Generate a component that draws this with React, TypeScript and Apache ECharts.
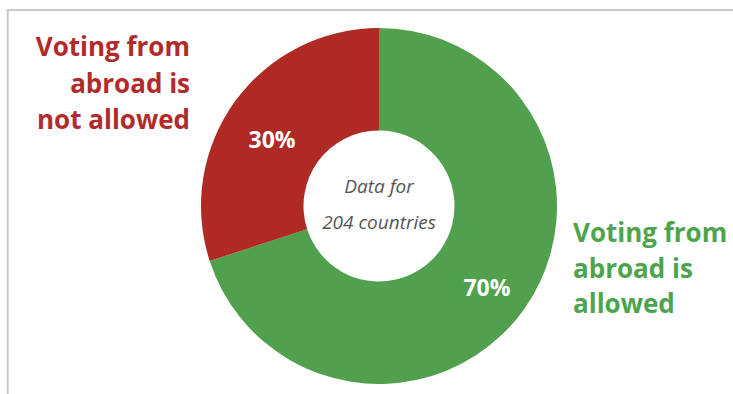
import React, { useEffect, useRef } from "react";
import * as echarts from "echarts";

const categories = ["Voting from abroad is allowed", "Voting from abroad is not allowed"];
const shares = [70, 30];
const sliceColors = ["#50A04E", "#AF2A25"];
const textColors = ["#4CA54C", "#B22B2B"];
const outerLabelLines = [
  ["Voting from", "abroad is", "allowed"],
  ["Voting from", "abroad is", "not allowed"],
];
const centerNote = ["Data for", "204 countries"];

export default function App() {
  const ref = useRef<HTMLDivElement>(null);
  useEffect(() => {
    if (!ref.current) return;
    const chart = echarts.init(ref.current, undefined, { renderer: "svg" });
    const font = "'Open Sans', 'Noto Sans', sans-serif";
    const graphics: any[] = [
      { type: "line", shape: { x1: 6.7, y1: 10, x2: 733, y2: 10 }, style: { stroke: "#c9c9c9", lineWidth: 2 } },
      { type: "line", shape: { x1: 7.7, y1: 9, x2: 7.7, y2: 394 }, style: { stroke: "#c9c9c9", lineWidth: 2 } },
    ];
    // right label (allowed)
    outerLabelLines[0].forEach((t, i) => {
      graphics.push({
        type: "text",
        x: 573,
        y: 232 + i * 35.5,
        style: { text: t, fill: textColors[0], font: `bold 26px ${font}`, align: "left", verticalAlign: "middle" },
      });
    });
    // left label (not allowed)
    outerLabelLines[1].forEach((t, i) => {
      graphics.push({
        type: "text",
        x: 190,
        y: 46 + i * 36.5,
        style: { text: t, fill: textColors[1], font: `bold 26px ${font}`, align: "right", verticalAlign: "middle" },
      });
    });
    centerNote.forEach((t, i) => {
      graphics.push({
        type: "text",
        x: 379,
        y: 186 + i * 36,
        style: { text: t, fill: "#555555", font: `italic 19px ${font}`, align: "center", verticalAlign: "middle" },
      });
    });
    chart.setOption({
      animation: false,
      graphic: graphics,
      series: [
        {
          type: "pie",
          center: [379, 206],
          radius: [75.5, 178],
          startAngle: 90,
          clockwise: true,
          avoidLabelOverlap: false,
          label: {
            show: true,
            position: "inside",
            formatter: "{c}%",
            color: "#ffffff",
            fontFamily: "'Open Sans', sans-serif",
            fontWeight: "bold",
            fontSize: 23,
          },
          labelLine: { show: false },
          itemStyle: { borderWidth: 0 },
          emphasis: { disabled: true },
          data: categories.map((name, i) => ({
            name,
            value: shares[i],
            itemStyle: { color: sliceColors[i] },
            label: { offset: i === 0 ? [3, 5] : [-2, 9] },
          })),
        },
      ],
    });
    return () => chart.dispose();
  }, []);
  return (
    <div
      ref={ref}
      style={{ position: "absolute", left: 0, top: 0, width: 733, height: 394, background: "#fff" }}
    />
  );
}
